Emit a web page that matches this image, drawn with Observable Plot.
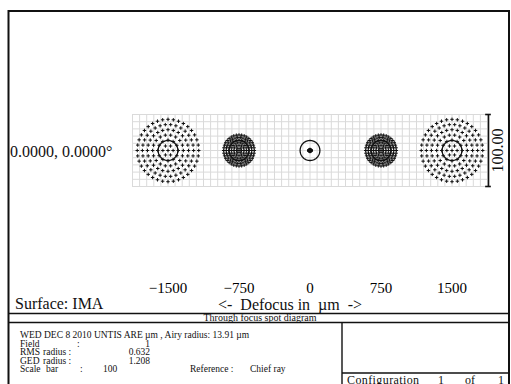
<!DOCTYPE html>
<html><head><meta charset="utf-8">
<script src="https://cdn.jsdelivr.net/npm/d3@7"></script>
<script src="https://cdn.jsdelivr.net/npm/@observablehq/plot@0.6"></script>
<style>
body{margin:0;background:#fff;}
#wrap{position:relative;width:511px;height:384px;overflow:hidden;font-family:"Liberation Serif","Times New Roman",serif;}
#wrap svg{position:absolute;left:0;top:0;}
</style></head><body><div id="wrap"></div>
<script>
// ---- data ----
const defocus = [-1500, -750, 0, 750, 1500];          // µm
const tickLabels = ["\u22121500", "\u2212750", "0", "750", "1500"];
const spotRadius = [43.3, 21.6, 1.208, 21.6, 43.3];    // geometric spot radius (µm)
const rings = [1, 2, 3, 4, 5, 6];                       // hexapolar ray rings
const airyRadius = 13.91;                               // µm
const scaleBar = 100;                                   // µm
const fieldLabel = "0.0000, 0.0000\u00b0";
const gridStep = 10;                                    // µm

// hexapolar ray pattern for each defocus position
const points = [];
defocus.forEach((f, j) => {
  points.push({defocus: f, x: 0, y: 0});
  rings.forEach(i => {
    const n = 6 * i, r = spotRadius[j] * i / rings.length;
    for (let k = 0; k < n; k++) {
      const a = 2 * Math.PI * k / n;
      points.push({defocus: f, x: r * Math.cos(a), y: r * Math.sin(a)});
    }
  });
});
const airy = [];
defocus.forEach(f => {
  for (let k = 0; k < 72; k++) {
    const a = 2 * Math.PI * k / 72;
    airy.push({defocus: f, x: airyRadius * Math.cos(a), y: airyRadius * Math.sin(a)});
  }
});
const half = scaleBar / 2;
const bar = [{defocus: defocus[defocus.length - 1], x: half, y1: -half, y2: half, label: scaleBar.toFixed(2)}];
const caps = [{defocus: bar[0].defocus, x1: half - 4, x2: half + 4, y: -half}, {defocus: bar[0].defocus, x1: half - 4, x2: half + 4, y: half}];
const gridTicks = d3.range(-half, half + 0.001, gridStep);

const plot = Plot.plot({
  width: 511, height: 384,
  marginLeft: 130, marginRight: 23, marginTop: 114, marginBottom: 198,
  x: {domain: [-half, half], axis: null},
  y: {domain: [-half, half], axis: null},
  fx: {domain: defocus, padding: 0, axis: null},
  style: {fontFamily: "'Liberation Serif','Times New Roman',serif", background: "white", overflow: "visible"},
  marks: [
    Plot.ruleX(gridTicks, {stroke: "#dadada", strokeWidth: 1}),
    Plot.ruleY(gridTicks, {stroke: "#dadada", strokeWidth: 1}),
    Plot.line(airy, {fx: "defocus", x: "x", y: "y", z: "defocus", curve: "linear-closed", stroke: "#111", strokeWidth: 1.3}),
    Plot.dot(points, {fx: "defocus", x: "x", y: "y", symbol: "plus", r: 1.2, stroke: "#111", strokeWidth: 1}),
    Plot.ruleX(bar, {fx: "defocus", x: "x", y1: "y1", y2: "y2", dx: 1, stroke: "#111", strokeWidth: 1.6}),
    Plot.ruleY(caps, {fx: "defocus", y: "y", x1: "x1", x2: "x2", dx: 1, stroke: "#111", strokeWidth: 1.6}),
    Plot.text(bar, {fx: "defocus", x: "x", y: 0, text: "label", rotate: -90, dx: 10, fontSize: 16, fill: "#111"}),
    Plot.axisFx({anchor: "bottom", tickSize: 0, tickPadding: 96, fontSize: 15, label: null,
      tickFormat: d => tickLabels[defocus.indexOf(d)]})
  ]
});
document.getElementById("wrap").appendChild(plot);

// ---- frame and info block (Zemax-style page decoration) ----
const ov = d3.select("#wrap").append("svg").attr("width", 511).attr("height", 384)
  .style("font-family", "'Liberation Serif','Times New Roman',serif").attr("fill", "#111");
const ln = (x1, y1, x2, y2, w) => ov.append("line").attr("x1", x1).attr("y1", y1).attr("x2", x2).attr("y2", y2)
  .attr("stroke", "#111").attr("stroke-width", w);
ln(8.5, 11, 509, 11, 2);
ln(8.5, 10, 8.5, 384, 2);
ln(509, 10, 509, 384, 2);
ln(8.5, 313.5, 509, 313.5, 1.4);
ln(8.5, 322.5, 509, 322.5, 1.4);
ln(342, 322.5, 342, 384, 1.4);
ln(342, 373, 509, 373, 1.4);

const tx = (x, y, s, size, anchor, ls) => ov.append("text").attr("x", x).attr("y", y).attr("font-size", size)
  .attr("text-anchor", anchor || "start").attr("letter-spacing", ls || 0).style("white-space", "pre").text(s);
tx(10, 157, fieldLabel, 16);
tx(15, 309, "Surface: IMA", 16);
tx(218, 310, "<-  Defocus in  \u00b5m  ->", 16);
tx(260, 320.5, "Through focus spot diagram", 10, "middle");

const fs = 9.5;
tx(20, 338, "WED DEC 8 2010 UNTIS ARE \u00b5m , Airy radius: 13.91 \u00b5m", fs);
tx(20, 346.5, "Field", fs); tx(77, 346.5, ":", fs); tx(150, 346.5, "1", fs, "end");
tx(20, 355, "RMS", fs); tx(43, 355, "radius :", fs); tx(150, 355, "0.632", fs, "end");
tx(20, 363.5, "GED", fs); tx(43, 363.5, "radius :", fs); tx(150, 363.5, "1.208", fs, "end");
tx(20, 372, "Scale", fs); tx(46, 372, "bar", fs); tx(80, 372, ":", fs); tx(103, 372, "100", fs);
tx(190, 372, "Reference :", fs); tx(250, 372, "Chief ray", fs);
tx(347, 384, "Configuration", 12, "start", 0.4);
tx(438, 384, "1", 12);
tx(465, 384, "of", 12);
tx(498, 384, "1", 12);
</script>
</body></html>
